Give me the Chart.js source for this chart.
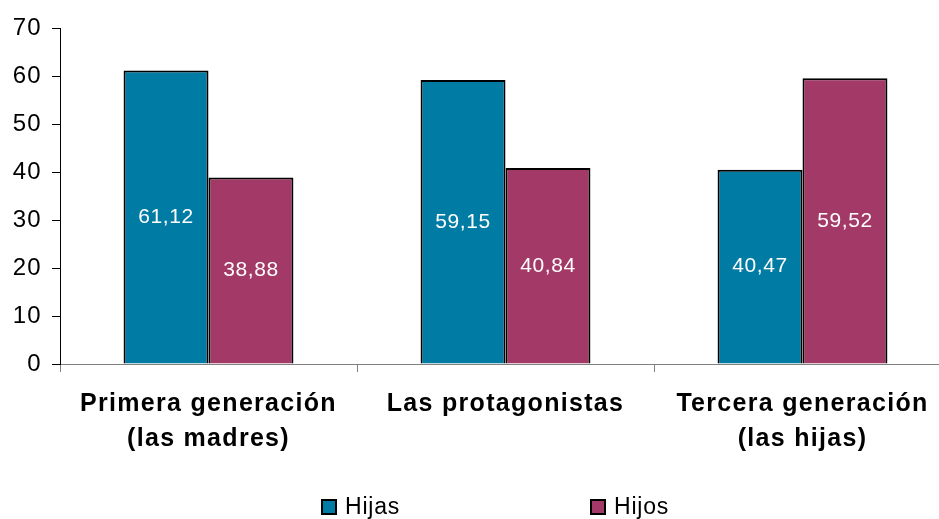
<!DOCTYPE html>
<html lang="es">
<head>
    <meta charset="UTF-8">
    <title>Hijas e hijos por generación</title>
    <script src="https://cdn.jsdelivr.net/npm/chart.js@4/dist/chart.umd.min.js"></script>
    <style>
        html, body { margin: 0; padding: 0; background: #fff; overflow: hidden; }
    </style>
</head>
<body>

<canvas id="theBarChart" width="960" height="519"></canvas>

<script>
    var categories = [["Primera generación", "(las madres)"], "Las protagonistas", ["Tercera generación", "(las hijas)"]];
    var hijasValues = [61.12, 59.15, 40.47];
    var hijosValues = [38.88, 40.84, 59.52];
    var yTicks = [0, 10, 20, 30, 40, 50, 60, 70];
    //
    var tealColor = "#007BA4";
    var maroonColor = "#A33966";
    var fontFamily = "'Liberation Sans', Arial, sans-serif";
    //
    function fmtComma(v){
        return v.toFixed(2).replace(".", ",");
    }
    // the old office chart spaces its letters a little wider
    var wideText = {
        id: "wideText",
        beforeDraw: function(chart){ chart.ctx.letterSpacing = "1.3px"; },
        afterDraw: function(chart){ chart.ctx.letterSpacing = "0px"; }
    };
    // values written inside each bar
    var barLabels = {
        id: "barLabels",
        afterDatasetsDraw: function(chart){
            var ctx = chart.ctx;
            ctx.save();
            ctx.letterSpacing = "0.6px";
            ctx.font = "21px " + fontFamily;
            ctx.fillStyle = "#ffffff";
            ctx.textAlign = "center";
            ctx.textBaseline = "middle";
            chart.data.datasets.forEach(function(ds, i){
                chart.getDatasetMeta(i).data.forEach(function(bar, j){
                    ctx.fillText(fmtComma(ds.data[j]), bar.x, (bar.y + bar.base) / 2);
                });
            });
            ctx.restore();
        }
    };
    // legend at the bottom, items set far apart
    var bottomLegend = {
        id: "bottomLegend",
        afterDraw: function(chart){
            var ctx = chart.ctx;
            var startX = [322, 591];
            var y = 507;
            ctx.save();
            ctx.letterSpacing = "0.8px";
            ctx.font = "23px " + fontFamily;
            ctx.textBaseline = "middle";
            ctx.textAlign = "left";
            chart.data.datasets.forEach(function(ds, i){
                ctx.fillStyle = ds.backgroundColor;
                ctx.fillRect(startX[i], y - 7, 14, 14);
                ctx.strokeStyle = "#000";
                ctx.lineWidth = 2;
                ctx.strokeRect(startX[i], y - 7, 14, 14);
                ctx.fillStyle = "#000";
                ctx.fillText(ds.label, startX[i] + 23, y + 1);
            });
            ctx.restore();
        }
    };
    //
    var barChart = new Chart("theBarChart", {
        type: "bar",
        data: {
            labels: categories,
            datasets: [{
                label: "Hijas",
                data: hijasValues,
                backgroundColor: tealColor,
                borderColor: "#000",
                borderWidth: 2,
                categoryPercentage: 0.572,
                barPercentage: 1.0
            }, {
                label: "Hijos",
                data: hijosValues,
                backgroundColor: maroonColor,
                borderColor: "#000",
                borderWidth: 2,
                categoryPercentage: 0.572,
                barPercentage: 1.0
            }]
        },
        options: {
            responsive: false,
            animation: false,
            layout: { padding: { top: 28, right: 9, bottom: 0, left: 0 } },
            plugins: {
                legend: { display: false },
                tooltip: { enabled: false }
            },
            scales: {
                x: {
                    grid: {
                        offset: true,
                        drawOnChartArea: false,
                        drawTicks: true,
                        tickLength: 8,
                        color: "#808080"
                    },
                    border: { color: "#808080", width: 1 },
                    ticks: {
                        color: "#000",
                        padding: 14,
                        maxRotation: 0,
                        autoSkip: false,
                        font: { family: fontFamily, size: 25, weight: "bold", lineHeight: 1.42 }
                    },
                    afterFit: function(scale){ scale.height = 155; }
                },
                y: {
                    min: 0,
                    max: 70,
                    afterBuildTicks: function(scale){
                        scale.ticks = yTicks.map(function(v){ return { value: v }; });
                    },
                    grid: {
                        drawOnChartArea: false,
                        drawTicks: true,
                        tickLength: 8,
                        color: "#000"
                    },
                    border: { color: "#000", width: 1 },
                    ticks: {
                        color: "#000",
                        padding: 10,
                        font: { family: fontFamily, size: 24 }
                    },
                    afterFit: function(scale){ scale.width = 60; }
                }
            }
        },
        plugins: [wideText, barLabels, bottomLegend]
    });
</script>

</body>
</html>
